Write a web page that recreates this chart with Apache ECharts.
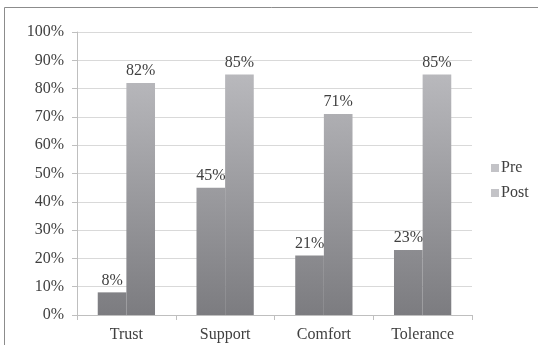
<!DOCTYPE html>
<html>
<head>
<meta charset="utf-8">
<script src="https://cdn.jsdelivr.net/npm/echarts@6/dist/echarts.min.js"></script>
<style>html,body{margin:0;padding:0;background:#fff}#c{width:538px;height:345px}</style>
</head>
<body>
<div id="c"></div>
<script>
const categories = ['Trust', 'Support', 'Comfort', 'Tolerance'];
const preValues = [8, 45, 21, 23];
const postValues = [82, 85, 71, 85];
const yTicks = [0, 10, 20, 30, 40, 50, 60, 70, 80, 90, 100];

const FONT = 'Liberation Serif';
const FS = 16;
const TXT = '#404040';
function grad() {
  return new echarts.graphic.LinearGradient(0, 32, 0, 315, [
    { offset: 0, color: '#c3c3c7' },
    { offset: 1, color: '#7c7c80' }
  ], true);
}
const chart = echarts.init(document.getElementById('c'), null, { renderer: 'canvas' });
chart.setOption({
  animation: false,
  backgroundColor: '#fff',
  textStyle: { fontFamily: FONT },
  graphic: [{
    type: 'rect', silent: true,
    shape: { x: 4.5, y: 7.5, width: 600, height: 400 },
    style: { fill: 'none', stroke: '#8c8c8c', lineWidth: 1 }
  }],
  grid: { left: 77, right: 66, top: 32, bottom: 30, containLabel: false },
  legend: {
    data: ['Pre', 'Post'],
    orient: 'vertical',
    left: 486, top: 155,
    itemWidth: 8, itemHeight: 8, itemGap: 9,
    icon: 'rect',
    textStyle: { fontFamily: FONT, fontSize: FS, color: TXT, padding: [0, 0, 0, -3] }
  },
  xAxis: {
    type: 'category',
    data: categories,
    axisLine: { lineStyle: { color: '#bfbfbf' } },
    axisTick: { show: true, length: 5, lineStyle: { color: '#bfbfbf' } },
    axisLabel: { fontFamily: FONT, fontSize: FS, color: TXT, margin: 12 }
  },
  yAxis: {
    type: 'value',
    min: yTicks[0], max: yTicks[yTicks.length - 1], interval: 10,
    axisLine: { show: true, lineStyle: { color: '#bfbfbf' } },
    axisTick: { show: true, length: 5, lineStyle: { color: '#bfbfbf' } },
    splitLine: { lineStyle: { color: '#d9d9d9' } },
    axisLabel: { fontFamily: FONT, fontSize: FS, color: TXT, margin: 13, formatter: '{value}%' }
  },
  series: [
    {
      name: 'Pre', type: 'bar', data: preValues,
      barGap: '0%', barCategoryGap: '42%',
      itemStyle: { color: grad() },
      label: { show: true, position: 'top', distance: 4, formatter: '{c}%', fontFamily: FONT, fontSize: FS, color: TXT }
    },
    {
      name: 'Post', type: 'bar', data: postValues,
      barGap: '0%', barCategoryGap: '42%',
      itemStyle: { color: grad() },
      label: { show: true, position: 'top', distance: 4, formatter: '{c}%', fontFamily: FONT, fontSize: FS, color: TXT }
    }
  ]
});
</script>
</body>
</html>
